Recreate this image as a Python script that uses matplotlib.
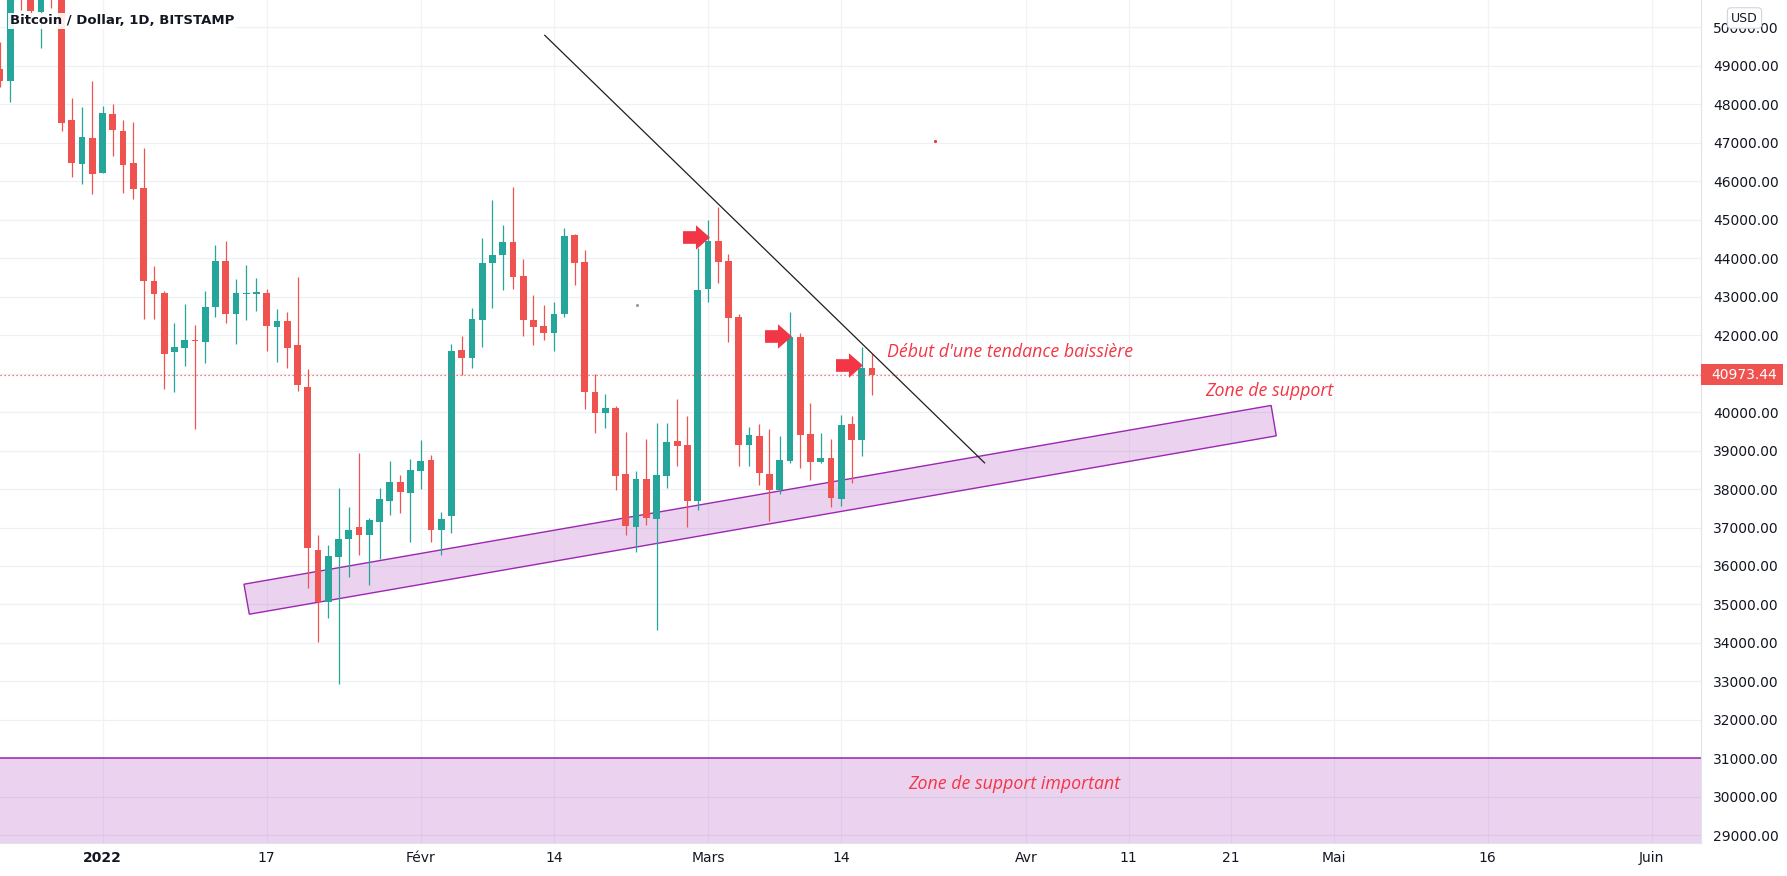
import numpy as np
import pandas as pd
import matplotlib
matplotlib.use("Agg")
import matplotlib.pyplot as plt
import matplotlib.dates as mdates
from matplotlib.path import Path
from matplotlib.patches import Polygon, Rectangle
from matplotlib import transforms

# --- data: BTC/USD daily candles, 22 Dec 2021 .. 17 Mar 2022 ---
start_date = "2021-12-22"
opens = [48908, 48612, 51000, 50900, 50400, 50800, 50750, 47590, 46455, 47122,
         46220, 47738, 47304, 46472, 45822, 43404, 43092, 41566, 41670, 41862,
         41826, 42736, 43924, 42554, 43060, 43074, 43084, 42216, 42364, 41740,
         40648, 36420, 35066, 36236, 36704, 37008, 36808, 37146, 37692, 38180,
         37900, 38470, 38750, 36930, 37290, 41610, 41410, 42390, 43872, 44080,
         44418, 43534, 42390, 42234, 42052, 42546, 44600, 43898, 40518, 39972,
         40102, 38386, 37008, 38256, 37216, 38334, 39244, 39140, 37684, 43196,
         44444, 43924, 42468, 39140, 39374, 38386, 37970, 38732, 41940, 39426,
         38706, 38794, 37744, 39686, 39278, 41142]
highs = [49626, 51380, 51800, 51150, 51300, 52000, 50800, 48154, 47928, 48604,
         47954, 47998, 47590, 47538, 46862, 43794, 43144, 42312, 42806, 42260,
         43144, 44340, 44452, 43456, 43820, 43482, 43188, 42676, 42598, 43508,
         41116, 36810, 36550, 38034, 37540, 38934, 37250, 38022, 38726, 38360,
         38776, 39270, 38880, 37400, 41766, 41974, 42702, 44522, 45510, 44860,
         45848, 43976, 43040, 42780, 42858, 44782, 44620, 44210, 40986, 40466,
         40154, 39478, 38464, 39296, 39712, 39712, 40336, 39894, 44262, 44990,
         45328, 44106, 42546, 39608, 39686, 39556, 39374, 42598, 42044, 40224,
         39460, 39288, 39928, 39894, 41698, 41506]
lows = [48456, 48066, 50450, 50200, 49470, 50490, 47312, 46116, 45934, 45674,
        46220, 46662, 45700, 45536, 42424, 42424, 40604, 40526, 41200, 39563,
        41280, 42476, 42320, 41774, 42398, 42632, 41592, 41306, 41150, 40552,
        35430, 34030, 34642, 32930, 35716, 36288, 35508, 36184, 37328, 37380,
        36626, 38000, 36630, 36280, 36850, 40960, 41150, 41688, 42702, 43170,
        43196, 41974, 41740, 41870, 41584, 42468, 43300, 40076, 39452, 39582,
        37970, 36800, 36358, 37060, 34330, 38022, 38594, 37008, 37450, 42858,
        43352, 41818, 38594, 38594, 38100, 37164, 37866, 38680, 38550, 38230,
        38664, 37520, 37562, 38144, 38854, 40450]
closes = [48612, 50820, 50850, 50430, 50800, 50750, 47520, 46480, 47148, 46194,
          47764, 47338, 46428, 45804, 43412, 43074, 41506, 41688, 41870, 41836,
          42728, 43924, 42554, 43092, 43100, 43118, 42242, 42364, 41670, 40708,
          36470, 35066, 36264, 36706, 36940, 36808, 37190, 37736, 38180, 37926,
          38490, 38724, 36930, 37230, 41590, 41410, 42416, 43872, 44080, 44418,
          43516, 42390, 42208, 42052, 42546, 44574, 43872, 40518, 39972, 40102,
          38334, 37034, 38256, 37242, 38360, 39218, 39114, 37684, 43170, 44444,
          43898, 42442, 39140, 39400, 38412, 37970, 38750, 41940, 39408, 38706,
          38794, 37770, 39660, 39270, 41142, 40973.44]
last_price = 40973.44

# axis ticks
tick_dates = ["2022-01-01", "2022-01-17", "2022-02-01", "2022-02-14", "2022-03-01",
              "2022-03-14", "2022-04-01", "2022-04-11", "2022-04-21", "2022-05-01",
              "2022-05-16", "2022-06-01"]
tick_labels = ["2022", "17", "Févr", "14", "Mars", "14", "Avr", "11", "21", "Mai", "16", "Juin"]
price_ticks = list(range(29000, 51000, 1000))

# drawings (days after 1 Jan 2022, price)
trend_days = [43.1, 85.97]
trend_prices = [49792, 38680]
channel_days = [13.78, 113.9, 114.4, 14.30]
channel_prices = [35526, 40172, 39382, 34746]
zone_top = 31000
arrow_days = [57.8, 65.8, 72.8]
arrow_prices = [44556, 41982, 41220]

GREEN = "#26a69a"
RED = "#ef5350"
PURPLE = "#9c27b0"
TXT = "#f23645"
DARK = "#131722"

dates = pd.date_range(start_date, periods=len(opens), freq="D")
x = mdates.date2num(dates)
x0 = mdates.date2num(pd.Timestamp("2022-01-01"))
o = np.array(opens, float); h = np.array(highs, float)
l = np.array(lows, float); c = np.array(closes, float)
up = c >= o

W, H = 1787, 876
fig = plt.figure(figsize=(W / 100, H / 100), dpi=100)
ax = fig.add_axes([0, 33 / H, 1701 / W, 843 / H])
ax.set_xlim(x0 - 10.0, x0 + 155.8)
ax.set_ylim(28800, 50710)

# grid
for t in mdates.date2num(pd.to_datetime(tick_dates)):
    ax.axvline(t, color="#f0f3fa", lw=0.9, zorder=0)
for p in price_ticks:
    ax.axhline(p, color="#eef0f5", lw=0.9, zorder=0)

# important support zone at the bottom
ax.axhspan(20000, zone_top, facecolor=PURPLE, alpha=0.2, lw=0, zorder=1)
ax.axhline(zone_top, color=PURPLE, lw=1.3, alpha=0.85, zorder=1.1)

# rising support channel
chan = Polygon(list(zip(x0 + np.array(channel_days), channel_prices)), closed=True,
               facecolor=(0.612, 0.153, 0.69, 0.2), edgecolor=PURPLE, lw=1.0, zorder=2)
ax.add_patch(chan)

# candles
cols = np.where(up, GREEN, RED)
ax.vlines(x, l, h, colors=cols, lw=0.9, zorder=3)
body_h = np.maximum(np.abs(c - o), 30)
ax.bar(x, body_h, bottom=np.minimum(o, c), width=0.66, color=cols, lw=0, zorder=4)

# trend line
ax.plot(x0 + np.array(trend_days), trend_prices, color="#1e1e1e", lw=0.9, zorder=5)

# red arrows
arrow = Path([(-1, -0.47), (-0.04, -0.47), (-0.04, -0.91), (1, 0), (-0.04, 0.91),
              (-0.04, 0.47), (-1, 0.47), (-1, -0.47)], closed=True)
ax.plot(x0 + np.array(arrow_days), arrow_prices, ls="none", marker=arrow,
        markersize=19.4, color=TXT, markeredgewidth=0, zorder=6)

# stray dots
ax.plot([x0 + 81.1], [47036], "o", ms=1.3, color=TXT, zorder=6)
ax.plot([x0 + 52.05], [42788], "o", ms=1.2, color="#9598a1", zorder=6)

# last price line
ax.axhline(last_price, color=RED, lw=0.9, ls=(0, (1, 2.2)), zorder=5)

# annotations
tfont = dict(color=TXT, style="italic", fontsize=12.8, family=["Open Sans", "DejaVu Sans"])
ax.text(x0 + 76.45, 41550, "Début d'une tendance baissière", ha="left", va="center", **tfont)
ax.text(x0 + 107.5, 40552, "Zone de support", ha="left", va="center", **tfont)
ax.text(x0 + 88.83, 30326, "Zone de support important", ha="center", va="center", **tfont)

# axes styling
for s in ["top", "left"]:
    ax.spines[s].set_visible(False)
ax.spines["right"].set_color("#e0e3eb")
ax.spines["bottom"].set_color("#e0e3eb")
ax.yaxis.tick_right()
ax.set_yticks(price_ticks)
ax.set_yticklabels([f"{p:.2f}" for p in price_ticks])
ax.tick_params(axis="y", length=0, pad=8.6, labelsize=10, labelcolor=DARK)
ax.set_xticks(mdates.date2num(pd.to_datetime(tick_dates)))
ax.set_xticklabels(tick_labels)
ax.tick_params(axis="x", length=0, pad=6, labelsize=10, labelcolor=DARK)
ax.get_xticklabels()[0].set_fontweight("bold")

# last price label on the scale
bt = transforms.blended_transform_factory(ax.transAxes, ax.transData)
ax.add_patch(Rectangle((1.0, last_price - 270), 82 / 1701, 540, transform=bt,
                       facecolor=RED, lw=0, clip_on=False, zorder=10))
ax.text(1711 / 1701, last_price, f"{last_price:.2f}", transform=bt, color="white",
        fontsize=10, ha="left", va="center", clip_on=False, zorder=11)

# USD badge
fig.text(1744.5 / W, 1 - 18 / H, "USD", ha="center", va="center", fontsize=9, color=DARK,
         bbox=dict(boxstyle="round,pad=0.3", fc="white", ec="#d1d4dc", lw=0.8))

# title
fig.text(10 / W, 1 - 21 / H, "Bitcoin / Dollar, 1D, BITSTAMP", ha="left", va="center",
         fontsize=9.5, fontweight="bold", color=DARK,
         bbox=dict(boxstyle="square,pad=0.15", fc="white", ec="none", alpha=0.9))

fig.savefig("out.png", dpi=100)
